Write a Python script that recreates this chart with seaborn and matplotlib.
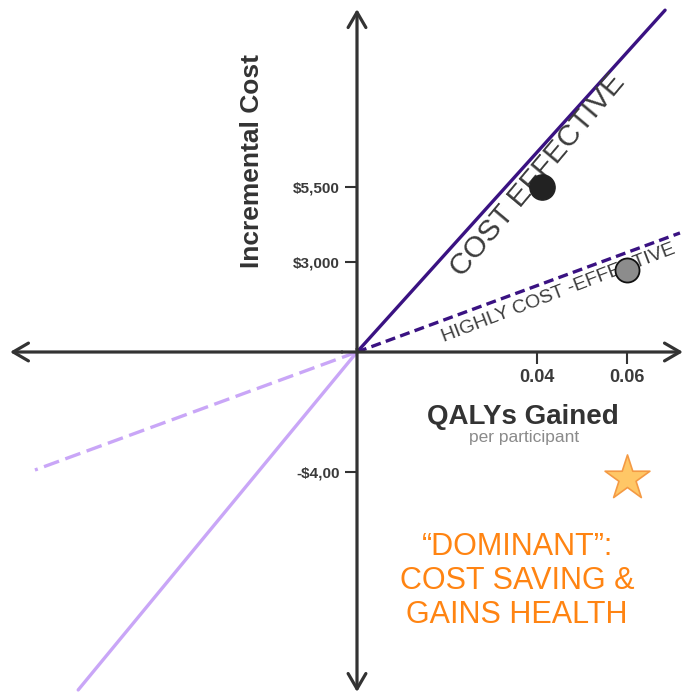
import numpy as np
import pandas as pd
import matplotlib
matplotlib.use("Agg")
import matplotlib.pyplot as plt
import seaborn as sns

# ---- data ----
# threshold lines, endpoints in (QALYs, $)
ce_x = [0, 0.0684]            # cost-effective threshold (solid)
ce_y = [0, 11400]
hce_x = [0, 0.0717]           # highly cost-effective threshold (dashed)
hce_y = [0, 3970]
ce_neg_x = [0, -0.0619]       # mirrored thresholds, south-west quadrant
ce_neg_y = [0, -11270]
hce_neg_x = [0, -0.0715]
hce_neg_y = [0, -3935]

# interventions
pt_x = [0.041, 0.06]
pt_y = [5500, 2750]
pt_kind = ['black', 'gray']
star_x = [0.06]
star_y = [-4200]

xticks = [0.04, 0.06]
xtick_labels = ['0.04', '0.06']
yticks = [5500, 3000, -4000]
ytick_labels = ['$5,500', '$3,000', '-$4,00']

# ---- style ----
sns.set_theme(style='white')
plt.rcParams['font.family'] = ['Liberation Sans', 'DejaVu Sans']

dark = '#333333'
purple = '#3a1282'
lavender = '#c9a6f7'
orange = '#ff8412'

fig = plt.figure(figsize=(6.84, 6.98), dpi=100)
ax = fig.add_axes([0, 0, 1, 1])
ax.set_xlim(-0.07926, 0.0726)
ax.set_ylim(-11539, 11739)

# threshold lines
lines = pd.DataFrame({
    'x': ce_x + hce_x + ce_neg_x + hce_neg_x,
    'y': ce_y + hce_y + ce_neg_y + hce_neg_y,
    'line': ['ce'] * 2 + ['hce'] * 2 + ['ce_neg'] * 2 + ['hce_neg'] * 2,
})
sns.lineplot(data=lines, x='x', y='y', hue='line', style='line',
             palette={'ce': purple, 'hce': purple, 'ce_neg': lavender, 'hce_neg': lavender},
             dashes={'ce': '', 'hce': (3.0, 1.6), 'ce_neg': '', 'hce_neg': (4.8, 2.0)},
             sort=False, estimator=None, linewidth=2.4, legend=False, ax=ax)

# markers
pts = pd.DataFrame({'x': pt_x, 'y': pt_y, 'kind': pt_kind})
sns.scatterplot(data=pts[pts.kind == 'black'], x='x', y='y', s=330, color='#222222',
                edgecolor='#222222', linewidth=1, ax=ax, zorder=5, legend=False)
sns.scatterplot(data=pts[pts.kind == 'gray'], x='x', y='y', s=300, color='#8c8c8c',
                edgecolor='#111111', linewidth=1.3, ax=ax, zorder=5, legend=False)
sns.scatterplot(x=star_x, y=star_y, marker='*', s=1150, color='#ffc766',
                edgecolor='#f49a44', linewidth=1.2, ax=ax, zorder=5, legend=False)

# axes with arrows
for s in ax.spines.values():
    s.set_visible(False)
ax.spines['left'].set_position('zero')
ax.spines['bottom'].set_position('zero')
arrow = dict(arrowstyle='->,head_length=0.55,head_width=0.32', color=dark,
             lw=2.3, mutation_scale=20, shrinkA=0, shrinkB=0)
ax.annotate('', xy=(0.0146, 0), xytext=(0.5, 0), xycoords=ax.get_yaxis_transform(),
            arrowprops=arrow)
ax.annotate('', xy=(0.9985, 0), xytext=(0.5, 0), xycoords=ax.get_yaxis_transform(),
            arrowprops=arrow)
ax.annotate('', xy=(0, 0.987), xytext=(0, 0.5), xycoords=ax.get_xaxis_transform(),
            arrowprops=arrow)
ax.annotate('', xy=(0, 0.0086), xytext=(0, 0.5), xycoords=ax.get_xaxis_transform(),
            arrowprops=arrow)

ax.set_xticks(xticks)
ax.set_xticklabels(xtick_labels, fontsize=13, fontweight='bold', color='#3a3a3a')
ax.set_yticks(yticks)
ax.set_yticklabels(ytick_labels, fontsize=11, fontweight='bold', color='#3a3a3a')
ax.tick_params(axis='both', which='major', direction='out', length=8.5, width=1.5,
               color=dark, bottom=True, left=True, top=False, right=False)
ax.tick_params(axis='x', pad=4)
ax.tick_params(axis='y', pad=4)
ax.set_xlabel('')
ax.set_ylabel('')

# labels
ax.text(0.369, 0.769, 'Incremental Cost', transform=ax.transAxes, rotation=90,
        ha='center', va='center', fontsize=19, fontweight='bold', color=dark)
ax.text(0.7646, 0.4026, 'QALYs Gained', transform=ax.transAxes,
        ha='center', va='center', fontsize=20, fontweight='bold', color=dark)
ax.text(0.766, 0.3739, 'per participant', transform=ax.transAxes,
        ha='center', va='center', fontsize=12.5, color='#8a8a8a')
ax.text(0.7865, 0.7493, 'COST EFFECTIVE', transform=ax.transAxes, rotation=50,
        rotation_mode='anchor', ha='center', va='center', fontsize=21.5, color='#3c3c3c')
ax.text(0.8158, 0.5802, 'HIGHLY COST -EFFECTIVE', transform=ax.transAxes, rotation=21,
        rotation_mode='anchor', ha='center', va='center', fontsize=14, color='#3c3c3c')
ax.text(0.756, 0.1676, '\u201cDOMINANT\u201d:\nCOST SAVING &\nGAINS HEALTH',
        transform=ax.transAxes, ha='center', va='center', fontsize=22,
        linespacing=1.17, color=orange)

fig.savefig('out.png', dpi=100)
